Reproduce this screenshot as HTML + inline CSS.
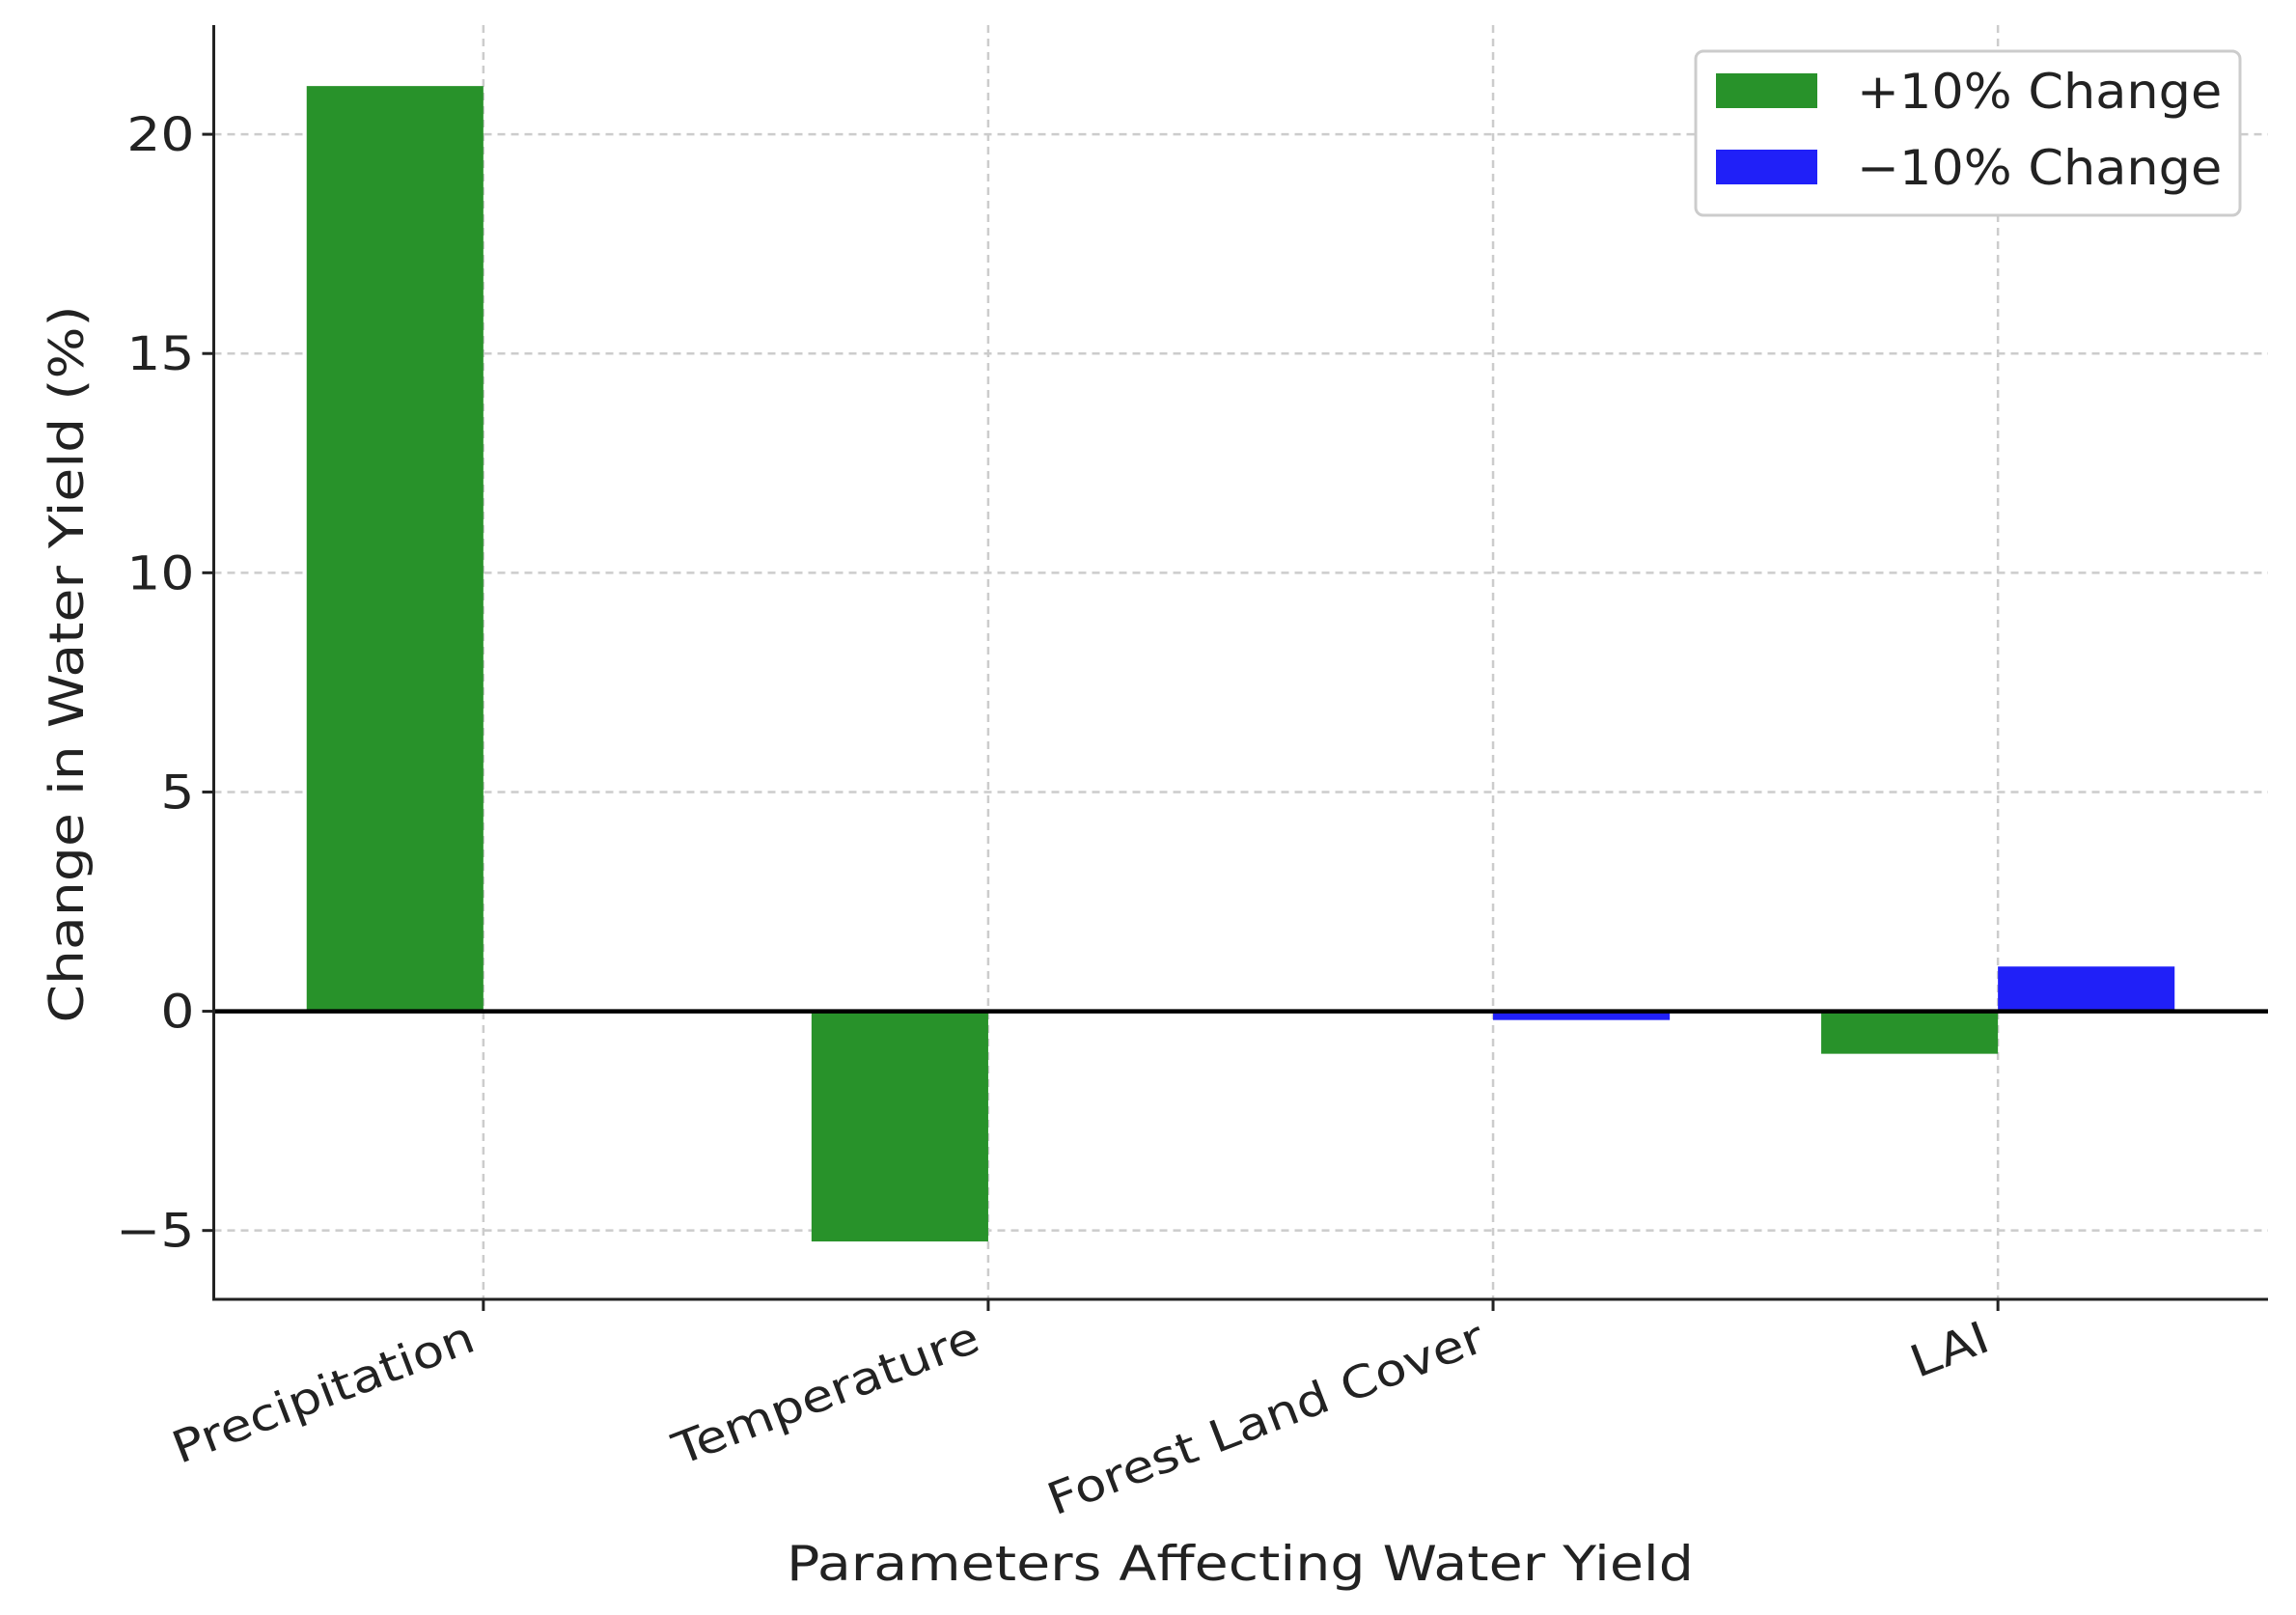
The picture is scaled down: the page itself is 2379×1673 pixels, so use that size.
<!DOCTYPE html>
<html><head><meta charset="utf-8"><style>
html,body{margin:0;padding:0;background:#fff;}
svg{display:block;font-family:"DejaVu Sans","Liberation Sans",sans-serif;}
</style></head><body>
<svg id="chart" width="2379" height="1673" viewBox="0 0 2379 1673" xmlns="http://www.w3.org/2000/svg">
<rect width="2379" height="1673" fill="#fff"/>
<g id="grid"></g><g id="bars"></g><g id="axes"></g>
<text transform="translate(1285,1637) scale(1.14,1)" font-size="50" text-anchor="middle" fill="#222">Parameters Affecting Water Yield</text>
<text transform="translate(86,688) rotate(-90) scale(1.015,0.88)" font-size="56" text-anchor="middle" fill="#222">Change in Water Yield (%)</text>
<g>
<rect x="1757" y="53" width="564" height="170" rx="8" fill="#fff" stroke="#ccc" stroke-width="3"/>
<rect x="1778" y="76" width="105" height="36" fill="#28922a"/>
<text transform="translate(1924,112) scale(1.05,1)" font-size="50" fill="#222">+10% Change</text>
<rect x="1778" y="155" width="105" height="36" fill="#2020f8"/>
<text transform="translate(1924,191) scale(1.05,1)" font-size="50" fill="#222">−10% Change</text>
</g>
</svg>
<script>
const categories = ["Precipitation","Temperature","Forest Land Cover","LAI"];
const plusValues = [21.1, -5.25, 0, -0.97];
const minusValues = [0, 0, -0.2, 1.02];
const yTicks = [-5, 0, 5, 10, 15, 20];
const yTickLabels = ["−5","0","5","10","15","20"];

const L=221.5,R=2350,T=26,B=1346;
const xMin=-0.534,xMax=3.535,yMin=-6.57,yMax=22.49;
const sx=v=>L+(v-xMin)/(xMax-xMin)*(R-L);
const sy=v=>T+(yMax-v)/(yMax-yMin)*(B-T);
const NS="http://www.w3.org/2000/svg";
function mk(tag,attrs,parent){const e=document.createElementNS(NS,tag);for(const k in attrs)e.setAttribute(k,attrs[k]);parent.appendChild(e);return e;}
const grid=document.getElementById('grid'),bars=document.getElementById('bars'),axes=document.getElementById('axes');
const bw=0.35;
yTicks.forEach((t,i)=>{
  const g=mk('line',{x1:L,x2:R,y1:sy(t),y2:sy(t),stroke:'#ccc','stroke-width':2.5,'stroke-dasharray':'8,6'},grid);
  
  
  const tk=mk('line',{x1:L-12,x2:L,y1:sy(t),y2:sy(t),stroke:'#222','stroke-width':3},axes);
  
  
  const tx=mk('text',{transform:`translate(${L-20},${sy(t)+17}) scale(1.15,1)`,'font-size':48,'text-anchor':'end',fill:'#222'},axes);
  tx.textContent=yTickLabels[i];
  
  
});
categories.forEach((c,i)=>{
  const x=sx(i);
  const g=mk('line',{x1:x,x2:x,y1:T,y2:B,stroke:'#ccc','stroke-width':2.5,'stroke-dasharray':'8,6'},grid);
  
  
  const p=plusValues[i];
  const b1=mk('rect',{x:sx(i-bw),y:Math.min(sy(p),sy(0)),width:sx(i)-sx(i-bw),height:Math.abs(sy(p)-sy(0)),fill:'#28922a'},bars);
  
  
  const m=minusValues[i];
  const b2=mk('rect',{x:sx(i),y:Math.min(sy(m),sy(0)),width:sx(i+bw)-sx(i),height:Math.abs(sy(m)-sy(0)),fill:'#2020f8'},bars);
  
  
  const tk=mk('line',{x1:x,x2:x,y1:B,y2:B+12,stroke:'#222','stroke-width':3},axes);
  
  
  const tx=mk('text',{transform:`translate(${x-6},${B+52}) rotate(-21) scale(1.15,1)`,'font-size':46,'text-anchor':'end',fill:'#222'},axes);
  tx.textContent=c;
  
  
});
const z=mk('line',{x1:L,x2:R,y1:sy(0),y2:sy(0),stroke:'#000','stroke-width':4.5},axes);


const ya=mk('line',{x1:L,x2:L,y1:T,y2:B+1.5,stroke:'#222','stroke-width':3},axes);


const xa=mk('line',{x1:L,x2:R,y1:B,y2:B,stroke:'#222','stroke-width':3},axes);


</script>
</body></html>
